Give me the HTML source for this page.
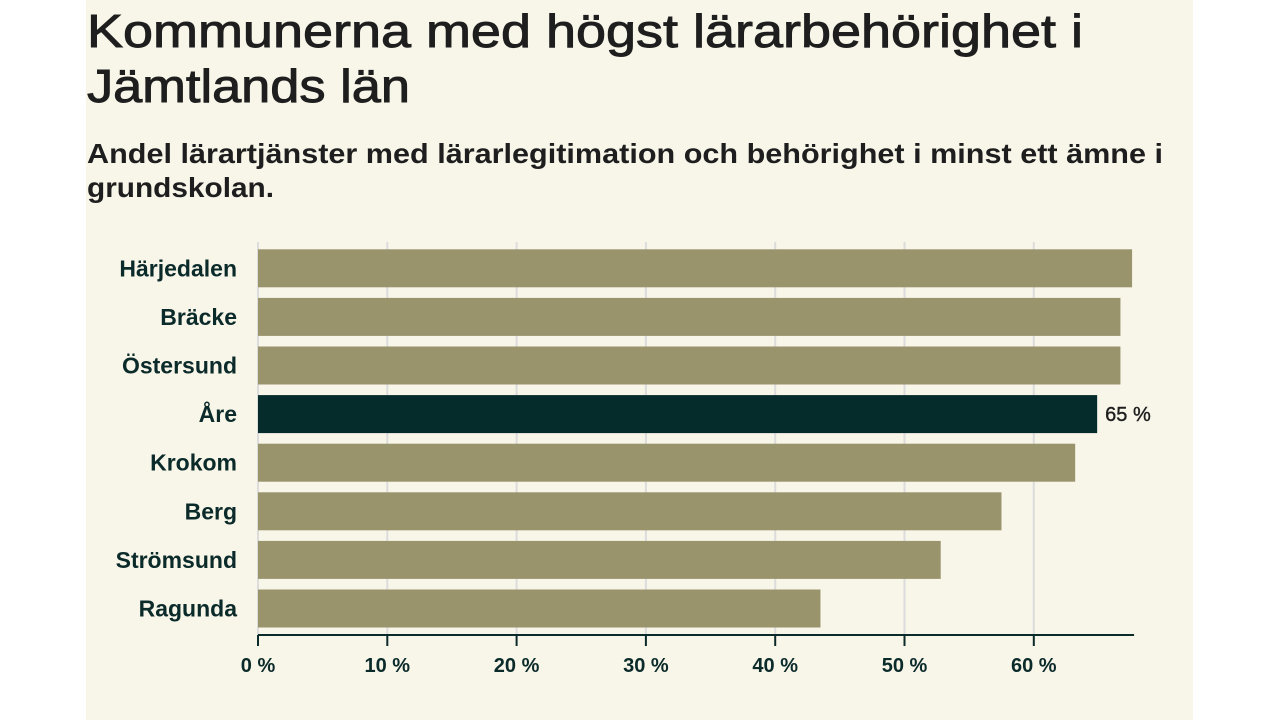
<!DOCTYPE html>
<html><head><meta charset="utf-8">
<style>
html,body{margin:0;padding:0;background:#fff;width:1280px;height:720px;overflow:hidden}
svg{display:block;font-family:"Liberation Sans",sans-serif}
</style></head>
<body>
<svg id="chart" width="1280" height="720" viewBox="0 0 1280 720">
<rect x="86" y="0" width="1107" height="720" fill="#f8f5e9"/>
<text x="87" y="47" font-size="46" fill="#1e1e1e" stroke="#1e1e1e" stroke-width="0.9" textLength="996" lengthAdjust="spacingAndGlyphs">Kommunerna med högst lärarbehörighet i</text>
<text x="87" y="102" font-size="46" fill="#1e1e1e" stroke="#1e1e1e" stroke-width="0.9" textLength="323" lengthAdjust="spacingAndGlyphs">Jämtlands län</text>
<text x="87" y="163" font-size="28" font-weight="bold" fill="#1e1e1e" textLength="1076" lengthAdjust="spacingAndGlyphs">Andel lärartjänster med lärarlegitimation och behörighet i minst ett ämne i</text>
<text x="87" y="197" font-size="28" font-weight="bold" fill="#1e1e1e" textLength="187" lengthAdjust="spacingAndGlyphs">grundskolan.</text>
<g id="grid"></g><g id="bars"></g><g id="axis"></g>
</svg>
<script>
const categories = ["Härjedalen","Bräcke","Östersund","Åre","Krokom","Berg","Strömsund","Ragunda"];
const values = [67.6, 66.7, 66.7, 64.9, 63.2, 57.5, 52.8, 43.5];
const highlight = ["Åre"];
const tickValues = [0,10,20,30,40,50,60];
const tickLabels = ["0 %","10 %","20 %","30 %","40 %","50 %","60 %"];

const NS="http://www.w3.org/2000/svg";
const x0=258, pxPer=12.93, yTop=244, step=48.6, barH=38, axisY=635;
const xs=v=>x0+v*pxPer;
const yc=i=>yTop+step*i+step/2;
function mk(tag,attrs,parent){const e=document.createElementNS(NS,tag);for(const k in attrs)e.setAttribute(k,attrs[k]);parent.appendChild(e);return e;}
const grid=document.getElementById('grid'),bars=document.getElementById('bars'),axis=document.getElementById('axis');
tickValues.forEach((t,i)=>{
  const gl=mk('line',{x1:xs(t),x2:xs(t),y1:242,y2:axisY,stroke:'#dcdcdc','stroke-width':2},grid);
  
  
  const tk=mk('line',{x1:xs(t),x2:xs(t),y1:axisY,y2:axisY+11,stroke:'#0b2a2a','stroke-width':2},axis);
  
  
  const tl=mk('text',{x:xs(t),y:672,'text-anchor':'middle','font-size':20,fill:'#0b2a2a','font-weight':'bold'},axis);
  tl.textContent=tickLabels[i];
  
  
});
const maxV=Math.max(...values);
const al=mk('line',{x1:x0,x2:xs(maxV)+2,y1:axisY,y2:axisY,stroke:'#0b2a2a','stroke-width':2},axis);


categories.forEach((c,i)=>{
  const hl=highlight.includes(c);
  const r=mk('rect',{x:x0,y:yc(i)-barH/2,width:xs(values[i])-x0,height:barH,fill:hl?'#062b2b':'#9a946d'},bars);
  
  
  const lb=mk('text',{x:237,y:yc(i)+8,'text-anchor':'end','font-size':23,'font-weight':'bold',fill:'#0b2a2a'},bars);
  lb.textContent=c;
  
  
  if(hl){
    const vl=mk('text',{x:xs(values[i])+8,y:yc(i)+7,'font-size':20,fill:'#1e1e1e',stroke:'#1e1e1e','stroke-width':0.4},bars);
    vl.textContent=Math.round(values[i])+' %';
    
    
  }
});
</script>
</body></html>
